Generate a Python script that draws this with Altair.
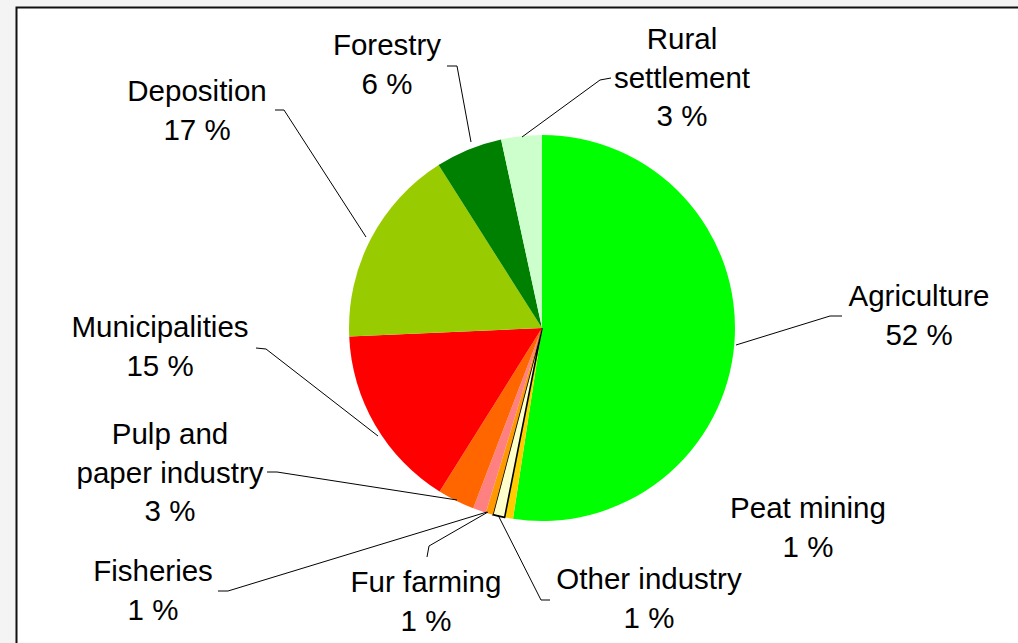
import altair as alt
import pandas as pd

# ---- data ----
categories = ["Agriculture", "Peat mining", "Other industry", "Fur farming", "Fisheries",
              "Pulp and paper industry", "Municipalities", "Deposition", "Forestry", "Rural settlement"]
label_names = ["Agriculture", "Peat mining", "Other industry", "Fur farming", "Fisheries",
               "Pulp and\npaper industry", "Municipalities", "Deposition", "Forestry", "Rural\nsettlement"]
shares = [52.4, 0.7, 1.0, 0.6, 1.1, 3.1, 15.4, 16.7, 5.6, 3.4]
shown_pct = [52, 1, 1, 1, 1, 3, 15, 17, 6, 3]
colors = ["#00FF00", "#FFCC00", "#FFFFCC", "#FF9900", "#FF8080",
          "#FF6600", "#FF0000", "#99CC00", "#008000", "#CCFFCC"]

# ---- layout (pixel positions of label first lines and leader lines) ----
W, H = 1018, 643
CX, CY, R = 542, 328, 193
label_x = [919, 808, 649, 426, 153, 170, 160, 197, 387, 682]
label_y = [297, 509, 580, 583, 572, 435, 328, 92, 46, 40]
leaders = {
    "Agriculture": [(736, 345), (830, 316), (842, 316)],
    "Other industry": [(498, 515), (541, 600), (550, 600)],
    "Fur farming": [(427, 557), (429, 546), (488, 512)],
    "Fisheries": [(218, 591), (228, 591), (487, 512)],
    "Pulp and paper industry": [(267, 472), (277, 472), (457, 500)],
    "Municipalities": [(256, 348), (266, 349), (378, 436)],
    "Deposition": [(275, 110), (284, 110), (366, 237)],
    "Forestry": [(447, 66), (457, 66), (471, 142)],
    "Rural settlement": [(611, 78), (600, 80), (522, 137)],
}

pie_df = pd.DataFrame({"category": categories, "share": shares, "idx": range(len(categories))})
lab_df = pd.DataFrame({
    "category": categories,
    "text": [f"{n}\n{p} %" for n, p in zip(label_names, shown_pct)],
    "x": label_x, "y": label_y,
})
rows = []
for cat, pts in leaders.items():
    for i, (px, py) in enumerate(pts):
        rows.append({"category": cat, "seq": i, "x": px, "y": py})
lead_df = pd.DataFrame(rows)

frame = alt.Chart(pd.DataFrame({"a": [0]})).mark_rect(
    fill="white", stroke="#111111", strokeWidth=2
).encode(x=alt.value(16.5), x2=alt.value(W + 20), y=alt.value(7.5), y2=alt.value(H + 20))

pie = alt.Chart(pie_df).mark_arc(outerRadius=R, stroke="black").encode(
    theta=alt.Theta("share:Q", stack=True),
    order=alt.Order("idx:Q"),
    color=alt.Color("category:N", scale=alt.Scale(domain=categories, range=colors), legend=None),
    strokeWidth=alt.condition(alt.datum.category == "Other industry", alt.value(1.6), alt.value(0)),
    x=alt.value(CX), y=alt.value(CY),
)

lines = alt.Chart(lead_df).mark_line(color="black", strokeWidth=1).encode(
    x=alt.X("x:Q", scale=None), y=alt.Y("y:Q", scale=None),
    detail="category:N", order="seq:Q",
)

texts = alt.Chart(lab_df).mark_text(
    font="Liberation Sans", fontSize=29.5, lineHeight=38.5, align="center",
    baseline="middle", lineBreak="\n", color="black",
).encode(x=alt.X("x:Q", scale=None), y=alt.Y("y:Q", scale=None), text="text:N")

chart = alt.layer(frame, pie, lines, texts).properties(
    width=W, height=H, autosize=alt.AutoSizeParams(type="none"), padding=0,
    background="#f4f4f4",
).configure_view(stroke=None)

chart.save("out.html", embed_options={"renderer": "svg", "actions": False})
